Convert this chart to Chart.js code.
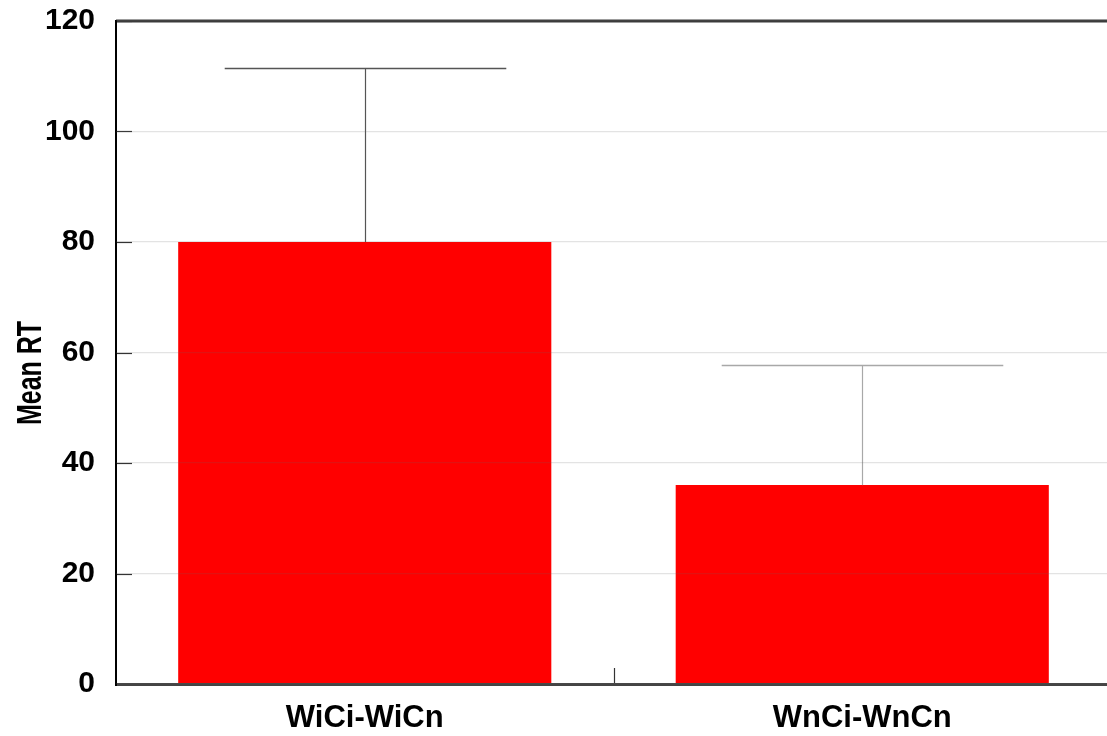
<!DOCTYPE html>
<html>
<head>
<meta charset="utf-8">
<script src="https://cdn.jsdelivr.net/npm/chart.js@4/dist/chart.umd.min.js"></script>
<style>
  html, body { margin: 0; padding: 0; background: #fff; overflow: hidden; }
  #wrap { width: 1111px; height: 736px; }
</style>
</head>
<body>
<div id="wrap"><canvas id="rtChart"></canvas></div>
<script>
// chart data
const categories = ['WiCi-WiCn', 'WnCi-WnCn'];
const meanRT = [80, 36];
const errUp = [31.5, 21.7];
const yTicks = [0, 20, 40, 60, 80, 100, 120];
const yTitle = 'Mean RT';
const errColors = ['#555555', '#a8a8a8'];

// error bars, axis lines, inward ticks, frame and the (stretched) y title
const extras = {
    id: 'extras',
    afterDatasetsDraw(chart) {
        const ctx = chart.ctx;
        const area = chart.chartArea;
        const x = chart.scales.x;
        const y = chart.scales.y;
        const catW = (area.right - area.left) / categories.length;

        ctx.save();
        // error bars (upper only)
        meanRT.forEach(function(v, i) {
            const cx = Math.round(x.getPixelForValue(i)) + 0.5;
            const y0 = y.getPixelForValue(v);
            const y1 = Math.round(y.getPixelForValue(v + errUp[i])) + 0.5;
            const half = catW * 0.283;
            ctx.strokeStyle = errColors[i];
            ctx.lineWidth = 1.2;
            ctx.beginPath();
            ctx.moveTo(cx, y0);
            ctx.lineTo(cx, y1);
            ctx.stroke();
            ctx.lineWidth = 1.5;
            ctx.beginPath();
            ctx.moveTo(cx - half, y1);
            ctx.lineTo(cx + half, y1);
            ctx.stroke();
        });

        // inward ticks on y axis
        ctx.strokeStyle = '#333';
        ctx.lineWidth = 1.2;
        yTicks.forEach(function(t) {
            const py = Math.round(y.getPixelForValue(t)) + 0.5;
            ctx.beginPath();
            ctx.moveTo(area.left, py);
            ctx.lineTo(area.left + 16, py);
            ctx.stroke();
        });

        // category divider tick on x axis
        for (let i = 1; i < categories.length; i++) {
            const px = Math.round(area.left + catW * i) + 0.5;
            ctx.beginPath();
            ctx.moveTo(px, area.bottom);
            ctx.lineTo(px, area.bottom - 16);
            ctx.stroke();
        }

        // top frame line
        ctx.strokeStyle = '#3a3a3a';
        ctx.lineWidth = 3;
        ctx.beginPath();
        ctx.moveTo(area.left, area.top);
        ctx.lineTo(area.right, area.top);
        ctx.stroke();

        // bottom axis line
        ctx.strokeStyle = '#444';
        ctx.beginPath();
        ctx.moveTo(area.left, area.bottom + 0.5);
        ctx.lineTo(area.right, area.bottom + 0.5);
        ctx.stroke();

        // left axis line
        ctx.strokeStyle = '#000';
        ctx.lineWidth = 2;
        ctx.beginPath();
        ctx.moveTo(area.left, area.top - 1);
        ctx.lineTo(area.left, area.bottom + 2);
        ctx.stroke();

        // y axis title, tall and narrow like the original
        ctx.translate(31, 373);
        ctx.rotate(-Math.PI / 2);
        ctx.scale(1, 1.4);
        ctx.fillStyle = '#000';
        ctx.font = 'bold 25px "Liberation Sans", Arial, sans-serif';
        ctx.textAlign = 'center';
        ctx.textBaseline = 'middle';
        ctx.fillText(yTitle, 0, 0);
        ctx.restore();
    }
};

const ctx = document.getElementById('rtChart');
const rtChart = new Chart(ctx, {
    type: 'bar',
    data: {
        labels: categories,
        datasets: [{
            data: meanRT,
            backgroundColor: '#ff0000',
            borderWidth: 0,
            barPercentage: 0.75,
            categoryPercentage: 1.0
        }]
    },
    options: {
        responsive: true,
        maintainAspectRatio: false,
        animation: false,
        layout: {
            padding: { top: 21, left: 0, right: 0, bottom: 0 }
        },
        plugins: {
            legend: { display: false },
            tooltip: { enabled: false }
        },
        scales: {
            x: {
                grid: { display: false },
                border: { display: false },
                ticks: {
                    color: '#000',
                    padding: 8,
                    font: { family: 'Liberation Sans', size: 31, weight: 'bold' }
                },
                afterFit: function(scale) { scale.height = 52; }
            },
            y: {
                min: 0,
                max: 120,
                afterBuildTicks: function(scale) {
                    scale.ticks = yTicks.map(function(v) { return { value: v }; });
                },
                grid: {
                    color: 'rgba(100,100,100,0.18)',
                    lineWidth: 1.2,
                    drawTicks: false,
                    z: 1
                },
                border: { display: false },
                ticks: {
                    color: '#000',
                    padding: 21,
                    font: { family: 'Liberation Sans', size: 30, weight: 'bold' }
                },
                afterFit: function(scale) {
                    scale.width = 116;
                    scale.paddingTop = 0;
                    scale.paddingBottom = 0;
                }
            }
        }
    },
    plugins: [extras]
});
</script>
</body>
</html>
